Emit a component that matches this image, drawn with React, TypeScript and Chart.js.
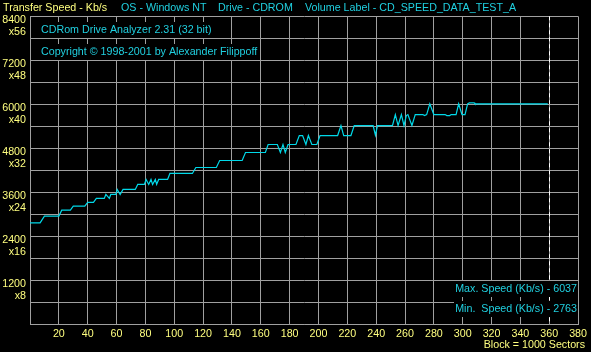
import React, { useEffect, useRef } from 'react';
import { Chart, registerables } from 'chart.js';

Chart.register(...registerables);

// Block position (x 1000 sectors) and transfer speed (Kb/s)
const blocks = [0, 7, 10, 20, 22, 28, 30, 38, 40, 44, 46, 51.5, 52.6, 55, 56, 59.5, 60.5, 62.5, 64.5, 73, 74.7, 79.3, 80.5, 82.3, 83.9, 85, 86.9, 87.8, 89.2, 95.4, 97, 112.6, 115, 129.2, 131.5, 147.1, 149.4, 163.2, 165.1, 171.5, 173.6, 175.4, 177, 178.9, 184.4, 186.7, 189, 191.3, 193, 195.4, 198.9, 201.1, 213.3, 215.6, 217.5, 222.5, 224.8, 237.9, 239.5, 240.9, 251.3, 253.3, 255.2, 257.5, 259.3, 260.9, 262, 264.8, 267.1, 272.4, 273.5, 275, 277.2, 280, 287.8, 289, 291, 292, 295.4, 297.2, 299.5, 301.6, 303.4, 304.6, 308, 308.5, 359];
const speeds = [2763, 2763, 2945, 2945, 3109, 3109, 3218, 3218, 3319, 3319, 3428, 3428, 3537, 3428, 3537, 3537, 3673, 3537, 3673, 3673, 3810, 3810, 3946, 3810, 3946, 3810, 3946, 3810, 3946, 3946, 4110, 4110, 4273, 4273, 4464, 4464, 4682, 4682, 4900, 4900, 4682, 4900, 4682, 4900, 4900, 5145, 5145, 4900, 5145, 4900, 4900, 5145, 5145, 5418, 5145, 5145, 5418, 5418, 5155, 5418, 5418, 5718, 5418, 5718, 5418, 5690, 5718, 5418, 5718, 5718, 5690, 5718, 6010, 5718, 5718, 5690, 5690, 5718, 5718, 6010, 5718, 5718, 6010, 6037, 6037, 6010, 6010];

const speedLabelValues = [1200, 2400, 3600, 4800, 6000, 7200, 8400];
const speedLabelFactors = ['x8', 'x16', 'x24', 'x32', 'x40', 'x48', 'x56'];
const blockLabelValues = [20, 40, 60, 80, 100, 120, 140, 160, 180, 200, 220, 240, 260, 280, 300, 320, 340, 360, 380];
const endBlock = 360;

const headerTexts = ['Transfer Speed - Kb/s', 'OS - Windows NT', 'Drive - CDROM', 'Volume Label - CD_SPEED_DATA_TEST_A'];
const infoTexts = ['CDRom Drive Analyzer 2.31 (32 bit)', 'Copyright \u00A9 1998-2001 by Alexander Filippoff'];
const statTexts = ['Max. Speed (Kb/s) - 6037', 'Min.  Speed (Kb/s) - 2763'];
const unitText = 'Block = 1000 Sectors';

const FAMILY = '"Liberation Sans", Arial, sans-serif';
const SIZE = 10.7;
const FONT = SIZE + 'px ' + FAMILY;
const YELLOW = '#ffff80';
const CYAN = '#20d0e0';
const LINE = '#00d8e8';
const GRID = '#a0a0a0';

function boxedText(ctx: CanvasRenderingContext2D, text: string, x: number, y: number, color: string, align: 'left' | 'right', box: boolean) {
  ctx.font = FONT;
  const w = ctx.measureText(text).width;
  const left = align === 'right' ? x - w : x;
  if (box) {
    ctx.fillStyle = '#000';
    ctx.fillRect(Math.floor(left) - 1, Math.round(y) - 8, Math.ceil(w) + 2, 16);
  }
  ctx.fillStyle = color;
  ctx.textAlign = 'left';
  ctx.textBaseline = 'middle';
  ctx.fillText(text, left, y);
}

const decorPlugin = {
  id: 'decor',
  beforeDraw(chart: any) {
    const ctx = chart.ctx;
    ctx.save();
    ctx.fillStyle = '#000';
    ctx.fillRect(0, 0, chart.width, chart.height);
    ctx.restore();
  },
  afterDatasetsDraw(chart: any) {
    const ctx = chart.ctx;
    const xs = chart.scales.x;
    const area = chart.chartArea;
    const x = Math.round(xs.getPixelForValue(endBlock)) + 0.5;
    ctx.save();
    ctx.strokeStyle = '#ffffff';
    ctx.lineWidth = 1;
    ctx.setLineDash([4, 3]);
    ctx.beginPath();
    ctx.moveTo(x, area.top);
    ctx.lineTo(x, area.bottom);
    ctx.stroke();
    ctx.restore();
  },
  afterDraw(chart: any) {
    const ctx = chart.ctx;
    ctx.save();
    boxedText(ctx, headerTexts[0], 3, 8, YELLOW, 'left', false);
    boxedText(ctx, headerTexts[1], 121, 8, CYAN, 'left', false);
    boxedText(ctx, headerTexts[2], 218, 8, CYAN, 'left', false);
    boxedText(ctx, headerTexts[3], 305, 8, CYAN, 'left', false);
    boxedText(ctx, infoTexts[0], 41, 30, CYAN, 'left', true);
    boxedText(ctx, infoTexts[1], 41, 52, CYAN, 'left', true);
    boxedText(ctx, statTexts[0], 577, 289, CYAN, 'right', true);
    boxedText(ctx, statTexts[1], 577, 309, CYAN, 'right', true);
    boxedText(ctx, unitText, 585, 345, YELLOW, 'right', false);
    ctx.restore();
  },
};

export default function App() {
  const ref = useRef<HTMLCanvasElement>(null);
  useEffect(() => {
    document.body.style.margin = '0';
    document.body.style.background = '#000';
    Chart.defaults.font.family = FAMILY;
    Chart.defaults.font.size = SIZE;
    const chart = new Chart(ref.current as HTMLCanvasElement, {
      type: 'line',
      data: {
        datasets: [
          {
            data: blocks.map((b, i) => ({ x: b, y: speeds[i] })),
            borderColor: LINE,
            borderWidth: 1.2,
            pointRadius: 0,
            tension: 0,
            fill: false,
          },
        ],
      },
      plugins: [decorPlugin],
      options: {
        animation: false,
        responsive: false,
        devicePixelRatio: 1,
        layout: { padding: { top: 15, right: 10, left: 0, bottom: 0 } },
        plugins: { legend: { display: false }, tooltip: { enabled: false } },
        scales: {
          x: {
            type: 'linear',
            min: 0,
            max: 380,
            grid: { color: GRID, lineWidth: 1, drawTicks: false },
            border: { color: GRID },
            ticks: {
              stepSize: 20,
              autoSkip: false,
              maxRotation: 0,
              color: YELLOW,
              padding: 4,
              font: { size: SIZE },
              callback: (v: any) => (blockLabelValues.includes(Number(v)) ? String(v) : ''),
            },
            afterFit: (s: any) => {
              s.height = 28;
            },
          },
          y: {
            type: 'linear',
            min: 0,
            max: 8400,
            grid: { color: GRID, lineWidth: 1, drawTicks: false },
            border: { color: GRID },
            ticks: {
              stepSize: 600,
              autoSkip: false,
              color: YELLOW,
              padding: 4,
              labelOffset: 10,
              font: { size: SIZE, lineHeight: 1.15 },
              callback: (v: any) => {
                const i = speedLabelValues.indexOf(Number(v));
                return i < 0 ? '' : [String(v), speedLabelFactors[i]];
              },
            },
            afterFit: (s: any) => {
              s.width = 30;
            },
          },
        },
      },
    } as any);
    return () => chart.destroy();
  }, []);
  return (
    <div style={{ width: 591, height: 352, background: '#000' }}>
      <canvas ref={ref} width={591} height={352} style={{ display: 'block' }} />
    </div>
  );
}
